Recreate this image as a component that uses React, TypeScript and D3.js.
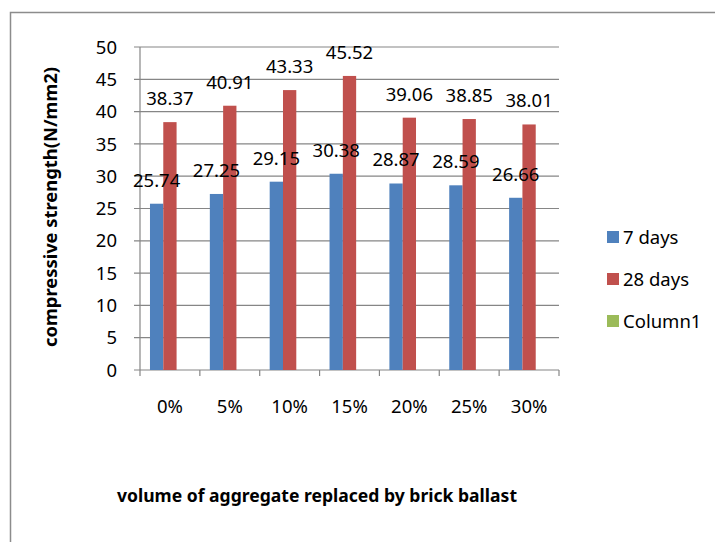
import React from "react";
import * as d3 from "d3";

const categories = ["0%", "5%", "10%", "15%", "20%", "25%", "30%"];
const seriesNames = ["7 days", "28 days", "Column1"];
const days7 = [25.74, 27.25, 29.15, 30.38, 28.87, 28.59, 26.66];
const days28 = [38.37, 40.91, 43.33, 45.52, 39.06, 38.85, 38.01];
const column1: (number | null)[] = [null, null, null, null, null, null, null];
const yTicks = [0, 5, 10, 15, 20, 25, 30, 35, 40, 45, 50];
const colors = ["#4F81BD", "#C0504D", "#9BBB59"];

const W = 715;
const H = 542;
const plot = { left: 140, right: 559, top: 47, bottom: 370 };
const FONT = "'Noto Sans', 'Open Sans', sans-serif";
const GRID = "#868686";

export default function App() {
  const x = d3.scaleBand<string>().domain(categories).range([plot.left, plot.right]).paddingInner(0).paddingOuter(0);
  const xs = d3.scaleBand<string>().domain(seriesNames).range([0, x.bandwidth()]).paddingInner(0).paddingOuter(0.75);
  const y = d3.scaleLinear().domain([0, 50]).range([plot.bottom, plot.top]);
  const allSeries = [days7, days28, column1];

  const boundaries = categories.map((c) => x(c)!).concat([plot.right]);

  return (
    <svg width={W} height={H} style={{ position: "absolute", left: 0, top: 0, background: "#fff" }} fontFamily={FONT}>
      <rect x={0} y={0} width={W} height={H} fill="#fff" />
      <rect x={10.5} y={12.5} width={W + 20} height={H + 20} fill="none" stroke="#8c8c8c" strokeWidth={1.5} />

      {/* gridlines */}
      {yTicks.map((t) => (
        <line key={"g" + t} x1={plot.left - 6} x2={plot.right} y1={y(t)} y2={y(t)} stroke={GRID} strokeWidth={1.2} />
      ))}
      {/* y axis line */}
      <line x1={plot.left} x2={plot.left} y1={plot.top} y2={plot.bottom} stroke={GRID} strokeWidth={1.2} />
      {/* x ticks */}
      {boundaries.map((b, i) => (
        <line key={"xt" + i} x1={b} x2={b} y1={plot.bottom} y2={plot.bottom + 6} stroke={GRID} strokeWidth={1.2} />
      ))}

      {/* y tick labels */}
      {yTicks.map((t) => (
        <text key={"yl" + t} x={117} y={y(t)} dy="0.36em" textAnchor="end" fontSize={18.5} fill="#000">
          {t}
        </text>
      ))}

      {/* bars */}
      {allSeries.map((s, si) =>
        s.map((v, ci) =>
          v == null ? null : (
            <rect
              key={`b${si}-${ci}`}
              x={x(categories[ci])! + xs(seriesNames[si])!}
              y={y(v)}
              width={xs.bandwidth()}
              height={y(0) - y(v)}
              fill={colors[si]}
            />
          )
        )
      )}

      {/* data labels */}
      {allSeries.map((s, si) =>
        s.map((v, ci) =>
          v == null ? null : (
            <text
              key={`l${si}-${ci}`}
              x={x(categories[ci])! + xs(seriesNames[si])! + xs.bandwidth() / 2}
              y={y(v) - 17}
              textAnchor="middle"
              fontSize={18.5}
              fill="#000"
            >
              {v.toFixed(2)}
            </text>
          )
        )
      )}

      {/* category labels */}
      {categories.map((c) => (
        <text key={"c" + c} x={x(c)! + x.bandwidth() / 2} y={413} textAnchor="middle" fontSize={18.5} fill="#000">
          {c}
        </text>
      ))}

      {/* axis titles */}
      <text
        transform={`translate(57, 207) rotate(-90)`}
        textAnchor="middle"
        fontSize={18}
        fontWeight="bold"
        fill="#000"
        textLength={280}
        lengthAdjust="spacingAndGlyphs"
      >
        compressive strength(N/mm2)
      </text>
      <text x={117} y={502} fontSize={18} fontWeight="bold" fill="#000" textLength={400} lengthAdjust="spacingAndGlyphs">
        volume of aggregate replaced by brick ballast
      </text>

      {/* legend */}
      {seriesNames.map((n, i) => (
        <g key={"lg" + n} transform={`translate(607, ${231 + i * 42})`}>
          <rect x={0} y={0} width={12} height={12} fill={colors[i]} />
          <text x={16} y={6} dy="0.36em" fontSize={18.5} fill="#000">
            {n}
          </text>
        </g>
      ))}
    </svg>
  );
}
